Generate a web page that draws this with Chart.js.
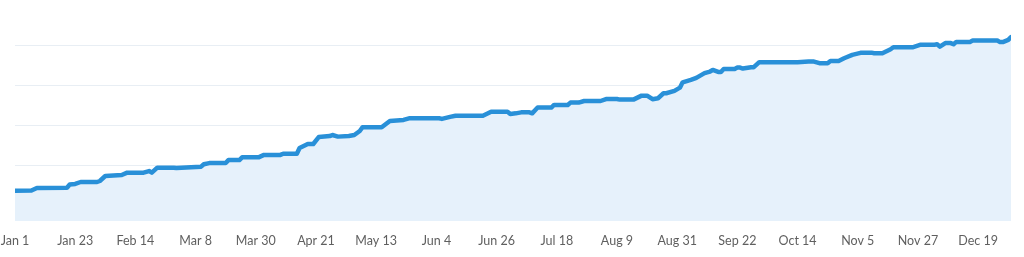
<!DOCTYPE html>
<html lang="en">
  <head>
    <meta charset="UTF-8" />
    <script src="https://cdn.jsdelivr.net/npm/chart.js@4.4.1/dist/chart.umd.min.js"></script>
    <style>
      body { margin: 0; background: #fff; }
      #wrap { width: 1024px; height: 257px; position: relative; }
    </style>
  </head>
  <body>
    <div id="wrap"><canvas id="myChart"></canvas></div>

    <script>
      // day of year (0 = Jan 1) and cumulative value
      var days = [0, 6, 8, 19, 20, 22, 24, 30, 31, 33, 39, 41, 47, 49, 50, 52, 58, 59, 68, 69,
        71, 77, 78, 82, 83, 89, 91, 97, 98, 103, 104, 107, 109, 111, 115, 116, 118, 122, 124, 126,
        127, 134, 137, 142, 144, 155, 156, 159, 161, 171, 174, 180, 181, 183, 185, 188, 189, 191, 196, 197,
        202, 203, 206, 208, 214, 216, 220, 221, 226, 229, 231, 233, 235, 237, 238, 241, 243, 244, 247, 249,
        252, 254, 255, 257, 258, 259, 263, 264, 265, 266, 269, 270, 272, 286, 290, 292, 294, 297, 298, 301,
        303, 306, 309, 313, 314, 317, 320, 321, 328, 331, 336, 337, 338, 340, 342, 343, 344, 349, 350, 359,
        360, 361, 363, 364];
      var values = [27.2, 27.3, 28.6, 28.7, 30.3, 30.6, 31.6, 31.6, 32.1, 34.6, 35.1, 36.3, 36.3, 37.1, 36.3, 38.8, 38.8, 38.6, 39.3, 40.5,
        41.1, 41.1, 42.6, 42.6, 44.0, 44.0, 45.2, 45.2, 45.8, 45.8, 48.7, 50.7, 50.7, 54.2, 54.7, 55.2, 54.4, 54.7, 55.2, 57.2,
        59.1, 59.1, 62.3, 62.8, 63.6, 63.6, 63.3, 64.3, 64.9, 64.9, 66.9, 66.9, 65.8, 66.1, 66.6, 66.6, 66.1, 69.0, 69.0, 70.3,
        70.3, 71.5, 71.5, 72.3, 72.3, 73.3, 73.3, 73.0, 73.0, 75.0, 75.0, 73.2, 73.7, 76.2, 76.2, 77.4, 79.0, 81.7, 82.9, 83.9,
        86.3, 87.1, 87.9, 86.9, 86.9, 88.4, 88.4, 89.1, 89.1, 88.6, 89.3, 89.3, 91.8, 91.8, 92.1, 92.1, 91.3, 91.3, 92.4, 92.4,
        93.8, 95.5, 96.5, 96.6, 96.3, 96.3, 98.3, 99.3, 99.3, 100.6, 100.6, 100.8, 99.6, 101.4, 101.4, 100.8, 102.0, 102.0, 102.7, 102.7,
        101.9, 101.9, 103.0, 104.4];

      var tickDays = [0, 22, 44, 66, 88, 110, 132, 154, 176, 198, 220, 242, 264, 286, 308, 330, 352];
      var tickLabels = ["Jan 1", "Jan 23", "Feb 14", "Mar 8", "Mar 30", "Apr 21", "May 13", "Jun 4", "Jun 26",
        "Jul 18", "Aug 9", "Aug 31", "Sep 22", "Oct 14", "Nov 5", "Nov 27", "Dec 19"];
      var gridValues = [20, 40, 60, 80, 100];

      var points = days.map(function (d, i) {
        return { x: d, y: values[i] };
      });

      var ctx = document.getElementById("myChart").getContext("2d");
      var chart = new Chart(ctx, {
        type: "line",
        data: {
          datasets: [
            {
              data: points,
              borderColor: "#2990d8",
              borderWidth: 4.5,
              backgroundColor: "#e6f1fb",
              fill: "start",
              pointRadius: 0,
              tension: 0,
              borderJoinStyle: "round",
              borderCapStyle: "round",
            },
          ],
        },
        options: {
          responsive: true,
          maintainAspectRatio: false,
          animation: false,
          layout: { padding: { left: 15, right: 13, top: 22, bottom: 0 } },
          plugins: { legend: { display: false }, tooltip: { enabled: false } },
          scales: {
            x: {
              type: "linear",
              min: 0,
              max: 364,
              grid: { display: false, drawTicks: false },
              border: { display: false },
              afterBuildTicks: function (scale) {
                scale.ticks = tickDays.map(function (d) { return { value: d }; });
              },
              afterFit: function (scale) {
                scale.height = 36;
                scale.paddingLeft = 0;
                scale.paddingRight = 0;
              },
              ticks: {
                autoSkip: false,
                maxRotation: 0,
                padding: 12,
                color: "#5f5f5f",
                font: { family: "Lato", size: 12.5 },
                callback: function (v) {
                  var i = tickDays.indexOf(v);
                  return i >= 0 ? tickLabels[i] : "";
                },
              },
            },
            y: {
              min: 12,
              max: 112,
              afterBuildTicks: function (scale) {
                scale.ticks = gridValues.map(function (v) { return { value: v }; });
              },
              afterFit: function (scale) {
                scale.width = 0;
              },
              ticks: { display: false },
              grid: { color: "#e8eef4", drawTicks: false, lineWidth: 1 },
              border: { display: false },
            },
          },
        },
      });
    </script>
  </body>
</html>
